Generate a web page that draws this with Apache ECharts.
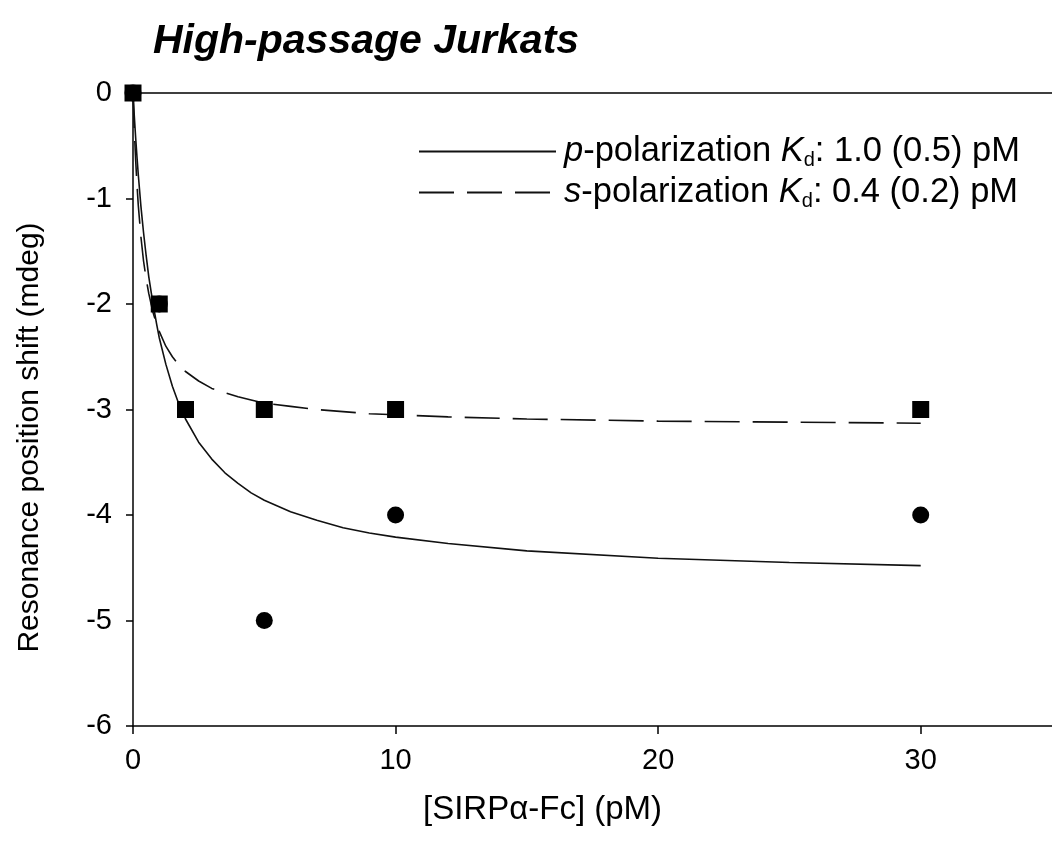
<!DOCTYPE html>
<html>
<head>
<meta charset="utf-8">
<script src="https://cdn.jsdelivr.net/npm/echarts@6/dist/echarts.min.js"></script>
<style>html,body{margin:0;padding:0;background:#fff}#c{width:1052px;height:848px}</style>
</head>
<body>
<div id="c"></div>
<script>
// measured data points
var dataX = [0, 1, 2, 5, 10, 30];
var pDataY = [0, -2, -3, -5, -4, -4];   // circles (p-polarization)
var sDataY = [0, -2, -3, -3, -3, -3];   // squares (s-polarization)
// fitted curves
var curveX = [0, 0.05, 0.1, 0.15, 0.2, 0.3, 0.4, 0.5, 0.6, 0.75, 0.9, 1, 1.25, 1.5, 1.75, 2, 2.5, 3, 3.5, 4, 4.5, 5, 6, 7, 8, 9, 10, 12, 15, 20, 25, 30];
var pFitY  = [0, -0.22, -0.42, -0.60, -0.77, -1.07, -1.32, -1.54, -1.74, -1.98, -2.19, -2.32, -2.57, -2.78, -2.95, -3.09, -3.31, -3.47, -3.60, -3.70, -3.79, -3.86, -3.97, -4.05, -4.12, -4.17, -4.21, -4.27, -4.34, -4.41, -4.45, -4.48];
var sFitY  = [0, -0.35, -0.63, -0.86, -1.06, -1.36, -1.59, -1.76, -1.90, -2.07, -2.19, -2.26, -2.40, -2.50, -2.58, -2.64, -2.73, -2.80, -2.84, -2.88, -2.91, -2.94, -2.97, -3.00, -3.02, -3.04, -3.05, -3.07, -3.09, -3.11, -3.12, -3.13];
var xTicks = [0, 10, 20, 30];

function pairs(xs, ys) { return xs.map(function (x, i) { return [x, ys[i]]; }); }

var chart = echarts.init(document.getElementById('c'), null, {renderer: 'canvas'});
var font = 'Liberation Sans';
chart.setOption({
  animation: false,
  backgroundColor: '#fff',
  title: {
    text: 'High-passage Jurkats',
    left: 148, top: 16,
    textStyle: {fontFamily: font, fontSize: 41, fontWeight: 'bold', fontStyle: 'italic', color: '#000'}
  },
  legend: {
    orient: 'vertical',
    left: 418, top: 134,
    itemWidth: 137, itemHeight: 14, itemGap: 5, padding: 0,
    data: ['pFit', 'sFit'],
    itemStyle: {color: 'rgba(0,0,0,0)', borderColor: 'rgba(0,0,0,0)', borderWidth: 0},
    formatter: function (n) {
      return n === 'pFit'
        ? '{i|p}{t|-polarization }{i|K}{s|d}{t|: 1.0 (0.5) pM}'
        : '{i|s}{t|-polarization }{i|K}{s|d}{t|: 0.4 (0.2) pM}';
    },
    textStyle: {
      fontFamily: font, fontSize: 34, color: '#000', padding: [0, 0, 0, 3],
      rich: {
        t: {fontFamily: font, fontSize: 34.5, color: '#000', lineHeight: 37, verticalAlign: 'middle'},
        i: {fontFamily: font, fontSize: 34.5, fontStyle: 'italic', color: '#000', lineHeight: 37, verticalAlign: 'middle'},
        s: {fontFamily: font, fontSize: 20, color: '#000', lineHeight: 12, verticalAlign: 'bottom'}
      }
    }
  },
  grid: {left: 133, top: 93, width: 931, height: 633, containLabel: false},
  xAxis: [{
    type: 'value', min: 0, max: 35, interval: 10, position: 'bottom',
    axisLine: {show: true, onZero: false, lineStyle: {color: '#000', width: 1.5}},
    axisTick: {show: true, length: 8, lineStyle: {color: '#000', width: 1.5}, customValues: xTicks},
    axisLabel: {fontFamily: font, fontSize: 29, color: '#000', margin: 20, customValues: xTicks},
    splitLine: {show: false},
    name: '[SIRPα-Fc] (pM)', nameLocation: 'middle', nameGap: 67,
    nameTextStyle: {fontFamily: font, fontSize: 33, color: '#000', padding: [0, 100, 0, 0]}
  }, {
    type: 'value', min: 0, max: 35, position: 'top',
    axisLine: {show: true, lineStyle: {color: '#000', width: 1.5}},
    axisTick: {show: false}, axisLabel: {show: false}, splitLine: {show: false}
  }],
  yAxis: {
    type: 'value', min: -6, max: 0, interval: 1,
    axisLine: {show: true, lineStyle: {color: '#000', width: 1.5}},
    axisTick: {show: true, length: 7, lineStyle: {color: '#000', width: 1.5}},
    axisLabel: {fontFamily: font, fontSize: 29, color: '#000', margin: 21},
    splitLine: {show: false},
    name: 'Resonance position shift (mdeg)', nameLocation: 'middle', nameGap: 88,
    nameTextStyle: {fontFamily: font, fontSize: 30, color: '#000', padding: [0, 56, 0, 0]}
  },
  series: [
    {name: 'pFit', type: 'line', data: pairs(curveX, pFitY), symbol: 'none', smooth: false,
      lineStyle: {color: '#111', width: 1.6, type: 'solid'}, itemStyle: {color: '#111'}, z: 2},
    {name: 'sFit', type: 'line', data: pairs(curveX, sFitY), symbol: 'none', smooth: false,
      lineStyle: {color: '#111', width: 1.6, type: [35, 13]}, itemStyle: {color: '#111'}, z: 2},
    {name: 'pData', type: 'scatter', data: pairs(dataX, pDataY), symbol: 'circle', symbolSize: 17,
      itemStyle: {color: '#000', opacity: 1}, z: 3},
    {name: 'sData', type: 'scatter', data: pairs(dataX, sDataY), symbol: 'rect', symbolSize: 17,
      itemStyle: {color: '#000', opacity: 1}, z: 4}
  ]
});
</script>
</body>
</html>
